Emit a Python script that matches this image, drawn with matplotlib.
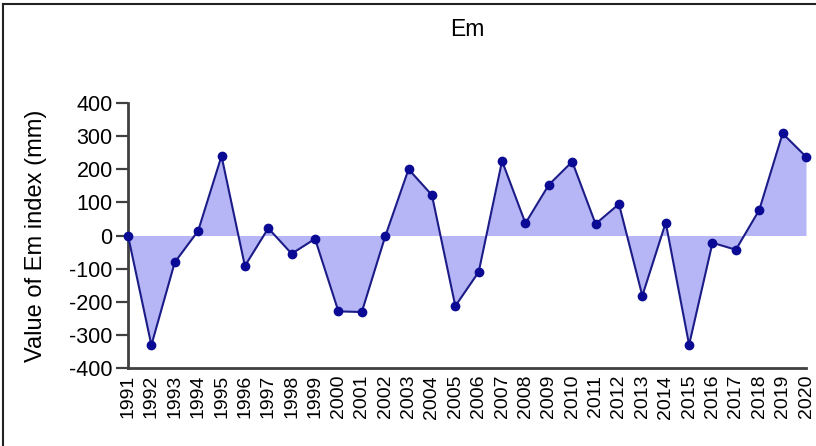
import numpy as np
import matplotlib
matplotlib.use("Agg")
import matplotlib.pyplot as plt
from matplotlib.lines import Line2D

plt.rcParams["font.family"] = ["Liberation Sans", "DejaVu Sans"]

years = list(range(1991, 2021))
em = [0, -331, -81, 14, 240, -92, 22, -55, -10, -229,
      -231, -3, 200, 122, -213, -110, 225, 37, 153, 223,
      35, 95, -182, 39, -330, -22, -43, 77, 308, 238]
yticks = [-400, -300, -200, -100, 0, 100, 200, 300, 400]

FILL, LINE, DOT = "#b6b6f6", "#1c1c88", "#0a0a94"

fig = plt.figure(figsize=(8.16, 4.46), dpi=100)
ax = fig.add_axes([128 / 816, 1 - 368 / 446, (806 - 128) / 816, (368 - 103) / 446])

ax.fill_between(years, em, 0, color=FILL, lw=0)
ax.plot(years, em, color=LINE, lw=1.5, marker="o", ms=6,
        mfc=DOT, mec=DOT, clip_on=False, zorder=3)

ax.set_xlim(1991, 2020)
ax.set_ylim(-400, 400)
ax.set_yticks(yticks)
ax.set_yticklabels([str(v) for v in yticks], fontsize=15.5)
ax.set_xticks(years)
ax.set_xticklabels([str(y) for y in years], rotation=90, fontsize=14)
ax.tick_params(axis="x", length=0, pad=5)
ax.tick_params(axis="y", length=9, width=1.6, color="#404040", pad=2)

for s in ("top", "right"):
    ax.spines[s].set_visible(False)
for s in ("left", "bottom"):
    ax.spines[s].set_color("#404040")
    ax.spines[s].set_linewidth(2)

ax.set_title("Em", fontsize=16.5, pad=48)
ax.set_ylabel("Value of Em index (mm)", fontsize=17, labelpad=16)

# frame line along the left and top edge of the picture
fig.add_artist(Line2D([3 / 816, 3 / 816], [0, 1 - 4 / 446], color="#222222", lw=1.5))
fig.add_artist(Line2D([3 / 816, 1], [1 - 4 / 446, 1 - 4 / 446], color="#222222", lw=1.5))

fig.savefig("out.png", dpi=100)
